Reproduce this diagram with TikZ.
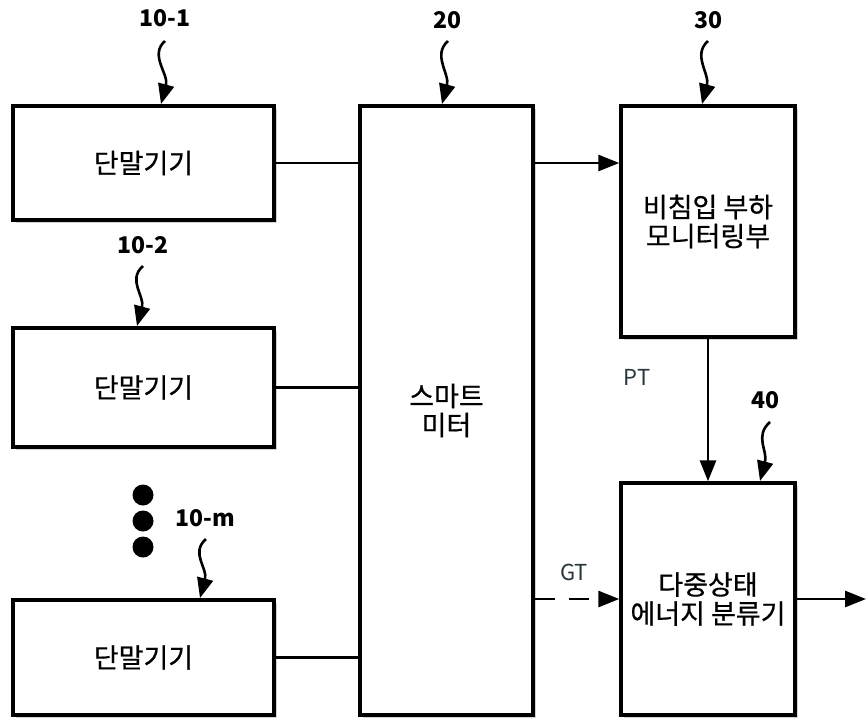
\documentclass[tikz,border=0pt]{standalone}
\usepackage{fontspec}
\setmainfont{Noto Sans CJK KR}
\newfontfamily\krmed{Noto Sans CJK KR}[FakeBold=0.6]
\usetikzlibrary{arrows.meta,shadows}
\definecolor{sigcol}{RGB}{40,55,60}
\begin{document}
\begin{tikzpicture}[x=1pt,y=-1pt,
  box/.style={draw, line width=3.4pt, fill=white, inner sep=0pt, align=center,
    font=\krmed\fontsize{27}{29}\selectfont,
    drop shadow={shadow xshift=2.5pt,shadow yshift=-2.5pt,opacity=0.35}},
  conn/.style={line width=2.8pt},
  tipped/.style={-{Triangle[length=21pt,width=16pt]}},
  reflab/.style={font=\bfseries\fontsize{23}{23}\selectfont, inner sep=0pt},
  curly/.style={line width=2.6pt, -{Triangle[length=20pt,width=16pt]}},
  sig/.style={font=\fontsize{22}{22}\selectfont, text=sigcol, inner sep=0pt}
]
\useasboundingbox (0,0) rectangle (866,718);

% boxes
\node[box, minimum width=261pt, minimum height=114pt] (t1) at (143.5,163) {단말기기};
\node[box, minimum width=261pt, minimum height=119pt] (t2) at (143.5,387.5) {단말기기};
\node[box, minimum width=261pt, minimum height=115pt] (tm) at (143.5,657.5) {단말기기};
\node[box, minimum width=173pt, minimum height=609pt] (sm) at (446.5,410.5) {스마트\\미터};
\node[box, minimum width=174pt, minimum height=231pt] (b30) at (708,221.5) {비침입 부하\\모니터링부};
\node[box, minimum width=174pt, minimum height=232pt] (b40) at (708,599) {다중상태\\에너지 분류기};

% reference labels
\node[reflab] (l1) at (165,18) {10-1};
\node[reflab] (l20) at (447,20) {20};
\node[reflab] (l30) at (708,20) {30};
\node[reflab] (l2) at (143,245) {10-2};
\node[reflab] (lm) at (205,518) {10-m};
\node[reflab] (l40) at (765,400) {40};

% curly pointer start/end points
\coordinate (s1) at (165,41);   \coordinate (e1) at (161,104);
\coordinate (s20) at (448,41);  \coordinate (e20) at (442,104);
\coordinate (s30) at (708,41);  \coordinate (e30) at (702,104);
\coordinate (s2) at (143,266);  \coordinate (e2) at (137,326);
\coordinate (sm1) at (206,539); \coordinate (em1) at (200,598);
\coordinate (s40) at (770,422); \coordinate (e40) at (760,481);

\foreach \a/\b in {s1/e1,s20/e20,s30/e30,s2/e2,sm1/em1,s40/e40}{
  \draw[curly] (\a) .. controls +(-16,14) and +(8,-30) .. (\b);
}

% dots
\fill (143,495) circle[radius=10.5pt];
\fill (143,521) circle[radius=10.5pt];
\fill (143,547) circle[radius=10.5pt];

% connections terminals -> smart meter
\draw[conn] (t1.east) -- (t1.east -| sm.west);
\draw[conn] (t2.east) -- (t2.east -| sm.west);
\draw[conn] (tm.east) -- (tm.east -| sm.west);

% smart meter -> 30
\draw[conn,tipped] (t1.east -| sm.east) -- (t1.east -| b30.west);
% 30 -> 40
\draw[conn,tipped] (b30.south) -- (b40.north);
\node[sig] (pt) at (637,377) {PT};
% GT dashed
\draw[conn,tipped,dash pattern=on 20pt off 14pt] (b40.west -| sm.east) -- (b40.west);
\node[sig] (gt) at (574,572) {GT};
% output
\coordinate (out) at (866,599);
\draw[conn,tipped] (b40.east) -- (out);
\end{tikzpicture}
\end{document}
